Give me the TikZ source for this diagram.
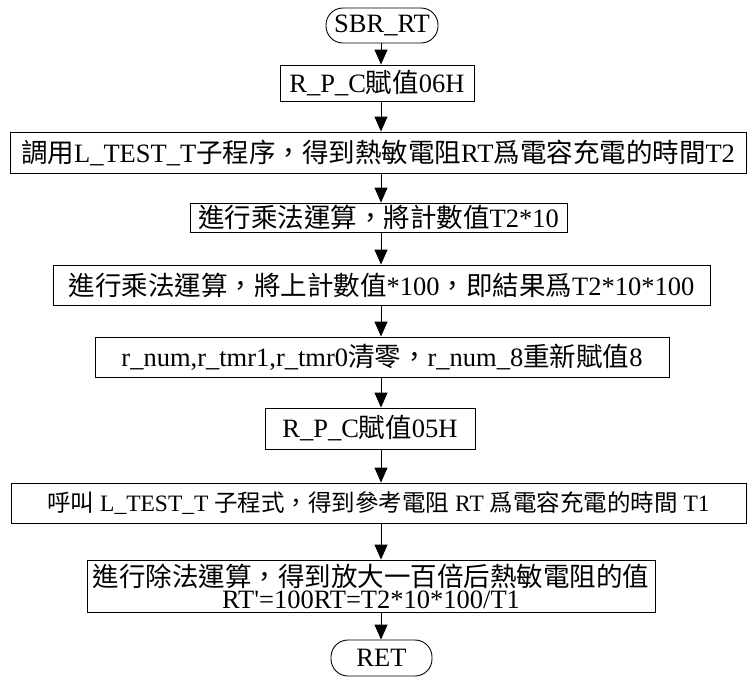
\documentclass[tikz,border=0pt]{standalone}
\usepackage{fontspec}
\setmainfont{Liberation Serif}
\newfontfamily\cjk{Noto Sans CJK TC}
\newcommand\zh[1]{{\cjk #1}}
\usetikzlibrary{arrows.meta}
\begin{document}
\begin{tikzpicture}[x=1pt,y=-1pt,
  box/.style={draw,line width=0.9pt,inner sep=0pt,anchor=center,align=center,
    font=\fontsize{26.5}{22}\selectfont},
  term/.style={box,rounded corners=17pt},
  arr/.style={line width=0.9pt,-{Triangle[length=15pt,width=13pt]}}]
\useasboundingbox (0,0) rectangle (749,678);
\coordinate (ax) at (381,0);
\node[term,minimum width=112pt,minimum height=35pt] (n0) at (382,25.5) {SBR\_RT};
\node[box,minimum width=194pt,minimum height=36pt] (n1) at (377,83) {R\_P\_C\zh{賦值}06H};
\node[box,minimum width=736pt,minimum height=41pt] (n2) at (378,152.5)
  {\zh{調用}L\_TEST\_T\zh{子程序，得到熱敏電阻}RT\zh{爲電容充電的時間}T2};
\node[box,minimum width=377pt,minimum height=29pt] (n3) at (378.5,217.5)
  {\zh{進行乘法運算，將計數值}T2*10};
\node[box,minimum width=657pt,minimum height=40pt] (n4) at (381.5,285)
  {\zh{進行乘法運算，將上計數值}*100\zh{，即結果爲}T2*10*100};
\node[box,minimum width=574pt,minimum height=40pt] (n5) at (382,357)
  {r\_num,r\_tmr1,r\_tmr0\zh{清零，}r\_num\_8\zh{重新賦值}8};
\node[box,minimum width=210pt,minimum height=41pt] (n6) at (370,428.5) {R\_P\_C\zh{賦值}05H};
\node[box,minimum width=735pt,minimum height=40pt,font=\fontsize{23.5}{24}\selectfont] (n7) at (378.5,503)
  {\zh{呼叫} L\_TEST\_T \zh{子程式，得到參考電阻} RT \zh{爲電容充電的時間} T1};
\node[box,minimum width=568pt,minimum height=52pt] (n8) at (371,586)
  {\zh{進行除法運算，得到放大一百倍后熱敏電阻的值}\\RT\textquotesingle=100RT=T2*10*100/T1};
\node[term,minimum width=101pt,minimum height=36pt] (n9) at (381.5,658) {RET};
\foreach \a/\b in {n0/n1,n1/n2,n2/n3,n3/n4,n4/n5,n5/n6,n6/n7,n7/n8,n8/n9}
  \draw[arr] (\a.south -| ax) -- (\b.north -| ax);
\end{tikzpicture}
\end{document}
